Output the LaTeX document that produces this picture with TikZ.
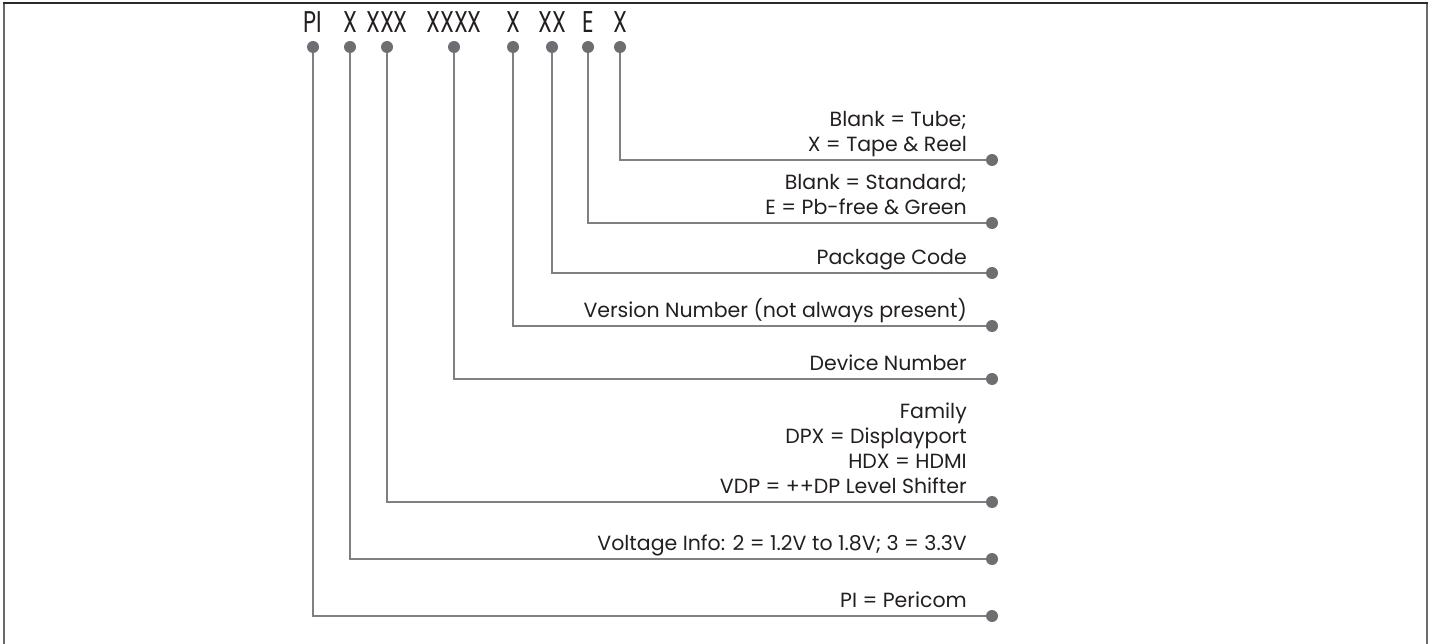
\documentclass[tikz,border=0pt]{standalone}
\usepackage{fontspec}
\setmainfont{Poppins}
\definecolor{ink}{HTML}{231F20}
\definecolor{wire}{HTML}{7F8083}
\definecolor{pinc}{HTML}{6D6E71}
\definecolor{rim}{HTML}{6A6A6A}
\definecolor{rimtop}{HTML}{2A2A2A}
\tikzset{
  code/.style={text=ink, font=\fontsize{30}{32}\selectfont, anchor=base, inner sep=0pt, xscale=0.75, transform shape},
  lab/.style={text=ink, font=\fontsize{20.5}{25}\selectfont, align=right, anchor=south east, inner sep=0pt},
  lead/.style={wire, line width=1.7pt},
  pin/.style={circle, fill=pinc, inner sep=0pt, minimum size=12pt},
}

\begin{document}
\begin{tikzpicture}[x=1pt, y=-1pt]
  \useasboundingbox (0,0) rectangle (1431,644);
  % frame
  \draw[rim, line width=2.5pt] (4,650) -- (4,3) -- (1427,3) -- (1427,650);
  \draw[rimtop, line width=2pt] (3,3) -- (1428,3);

  % part number fields
  \node[code] (f-pi)   at (313,33) {PI};
  \node[code] (f-volt) at (350,33) {X};
  \node[code] (f-fam)  at (387,33) {XXX};
  \node[code] (f-dev)  at (454,33) {XXXX};
  \node[code] (f-ver)  at (513,33) {X};
  \node[code] (f-pkg)  at (552,33) {XX};
  \node[code] (f-grn)  at (588,33) {E};
  \node[code] (f-tape) at (620,33) {X};

  % dots under the fields
  \foreach \n/\x in {pi/313, volt/350, fam/387, dev/454, ver/513, pkg/552, grn/588, tape/620}
    \node[pin] (d-\n) at (\x,47) {};

  % dots at the line ends
  \foreach \n/\y in {tape/160, grn/223, pkg/273, ver/326, dev/379, fam/502, volt/559, pi/616}
    \node[pin] (e-\n) at (992,\y) {};

  % leads
  \foreach \n in {pi, volt, fam, dev, ver, pkg, grn, tape}
    \draw[lead] (d-\n) |- (e-\n);

  % descriptions
  \node[lab] (l-tape) at (967,159) {Blank = Tube;\\X = Tape \& Reel\strut};
  \node[lab] (l-grn)  at (967,222) {Blank = Standard;\\E = Pb-free \& Green\strut};
  \node[lab] (l-pkg)  at (967,272) {Package Code\strut};
  \node[lab] (l-ver)  at (967,325) {Version Number (not always present)\strut};
  \node[lab] (l-dev)  at (967,378) {Device Number\strut};
  \node[lab] (l-fam)  at (967,501) {Family\\DPX = Displayport\\HDX = HDMI\\VDP = ++DP Level Shifter\strut};
  \node[lab] (l-volt) at (967,558) {Voltage Info: 2 = 1.2V to 1.8V; 3 = 3.3V\strut};
  \node[lab] (l-pi)   at (967,615) {PI = Pericom\strut};
\end{tikzpicture}
\end{document}
